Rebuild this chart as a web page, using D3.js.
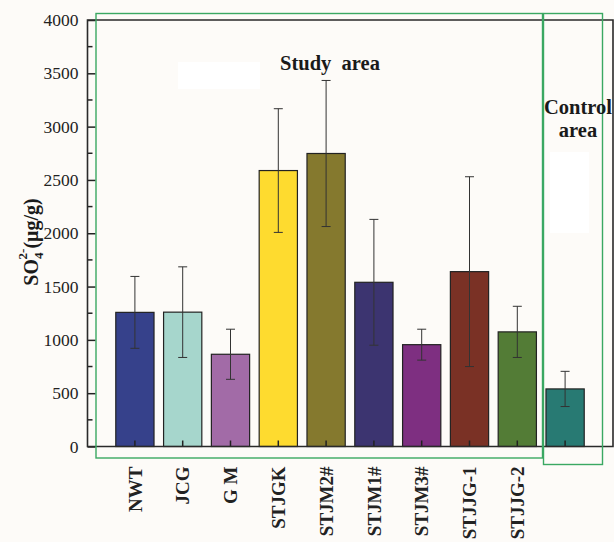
<!DOCTYPE html>
<html><head><meta charset="utf-8">
<script src="https://cdn.jsdelivr.net/npm/d3@7"></script>
<style>html,body{margin:0;padding:0;background:#fdfbf8;}svg{display:block;}</style>
</head><body>
<script>
const categories = ["NWT","JCG","G M","STJGK","STJM2#","STJM1#","STJM3#","STJJG-1","STJJG-2","Control"];
const axisLabels = ["NWT","JCG","G M","STJGK","STJM2#","STJM1#","STJM3#","STJJG-1","STJJG-2",""];
const means  = [1258, 1260, 865, 2588, 2748, 1540, 955, 1640, 1075, 540];
const errors = [ 337,  425, 235,  580,  685,  590, 145,  890,  240, 165];
const colors = ["#36418b","#a6d6cc","#a26ba7","#fedb2f","#85792e","#3c3470","#7e2f81","#7a3125","#537c36","#287a73"];
const yTicks = [0,500,1000,1500,2000,2500,3000,3500,4000];

const W = 614, H = 542;
const svg = d3.select("body").append("svg").attr("width", W).attr("height", H);
const font = '"Liberation Serif"';

const x0 = 87.5, x1 = 613, yTop = 20, yBot = 446.5;
const y = d3.scaleLinear().domain([0, 4000]).range([yBot, yTop]);
const x = d3.scaleBand().domain(categories).range([111, 589]).paddingInner(0.2).paddingOuter(0.1);

svg.append("rect").attr("x", x0).attr("y", yTop).attr("width", x1 - x0).attr("height", yBot - yTop).attr("fill", "#fdfbf8");
svg.append("rect").attr("x", 178).attr("y", 62).attr("width", 82).attr("height", 27).attr("fill", "#ffffff");
svg.append("rect").attr("x", 550).attr("y", 152).attr("width", 39).attr("height", 81).attr("fill", "#ffffff");

svg.append("g").selectAll("rect").data(categories).join("rect")
  .attr("x", d => x(d)).attr("width", x.bandwidth())
  .attr("y", (d, i) => y(means[i])).attr("height", (d, i) => yBot - y(means[i]))
  .attr("fill", (d, i) => colors[i]).attr("stroke", "#222").attr("stroke-width", 1.2);

const eg = svg.append("g").attr("stroke", "#333").attr("stroke-width", 1);
categories.forEach((c, i) => {
  const cx = x(c) + x.bandwidth() / 2;
  const hi = y(means[i] + errors[i]), lo = y(means[i] - errors[i]);
  eg.append("line").attr("x1", cx).attr("x2", cx).attr("y1", hi).attr("y2", lo);
  eg.append("line").attr("x1", cx - 4.5).attr("x2", cx + 4.5).attr("y1", hi).attr("y2", hi);
  eg.append("line").attr("x1", cx - 4.5).attr("x2", cx + 4.5).attr("y1", lo).attr("y2", lo);
});

const yAxis = d3.axisLeft(y).tickValues(yTicks).tickFormat(d3.format("d")).tickSize(-8).tickPadding(9).tickSizeOuter(0);
const yg = svg.append("g").attr("transform", `translate(${x0},0)`).call(yAxis);
yg.attr("font-family", font).attr("font-size", 17.5);
yg.select(".domain").remove();
yg.selectAll("line").attr("stroke", "#222").attr("stroke-width", 1.5);
yg.selectAll("text").style("font-family", font).style("font-size", "17.5px").attr("fill", "#222");
const minor = d3.range(250, 4000, 500);
svg.append("g").selectAll("line").data(minor).join("line")
  .attr("x1", x0).attr("x2", x0 + 5).attr("y1", d => y(d)).attr("y2", d => y(d))
  .attr("stroke", "#222").attr("stroke-width", 1.5);

const xAxis = d3.axisBottom(x).tickFormat((d, i) => axisLabels[i]).tickSize(-6).tickSizeOuter(0).tickPadding(0);
const xg = svg.append("g").attr("transform", `translate(0,${yBot})`).call(xAxis);
xg.attr("font-family", font).attr("font-size", 19);
xg.select(".domain").remove();
xg.selectAll("line").attr("stroke", "#222").attr("stroke-width", 1.5);
xg.selectAll("text").style("font-family", font).style("font-size", "19px").style("font-weight", "bold").attr("fill", "#222")
  .attr("text-anchor", "end").attr("dy", "0.35em")
  .attr("transform", "translate(0,20) rotate(-90)");

svg.append("path").attr("d", `M${x0},${yBot}H${x1}V${yTop}H${x0}Z`)
  .attr("fill", "none").attr("stroke", "#2a2a2a").attr("stroke-width", 1.6);

svg.append("rect").attr("x", 96).attr("y", 13.5).attr("width", 446.5).attr("height", 444.5)
  .attr("fill", "none").attr("stroke", "#3aa862").attr("stroke-width", 1.4);
svg.append("rect").attr("x", 543.5).attr("y", 13.5).attr("width", 59).attr("height", 451)
  .attr("fill", "none").attr("stroke", "#3aa862").attr("stroke-width", 1.4);

function label(t, xx, yy, size) {
  return svg.append("text").attr("x", xx).attr("y", yy).attr("text-anchor", "middle")
    .style("font-family", font).style("font-size", size + "px").style("font-weight", "600")
    .attr("fill", "#1a1a1a").text(t);
}
label("Study\u00a0\u00a0area", 330, 70, 20.5);
label("Control", 578, 114, 20.5);
label("area", 578, 137, 20.5);

const yl = svg.append("text").attr("transform", "translate(38,242) rotate(-90)").attr("text-anchor", "middle")
  .style("font-family", font).style("font-size", "20px").style("font-weight", "bold").attr("fill", "#1a1a1a");
yl.append("tspan").text("SO");
yl.append("tspan").style("font-size", "13px").attr("dy", 5).text("4");
yl.append("tspan").style("font-size", "13px").attr("dx", -7).attr("dy", -16).text("2-");
yl.append("tspan").attr("dy", 11).text("(μg/g)");
</script>
</body></html>
